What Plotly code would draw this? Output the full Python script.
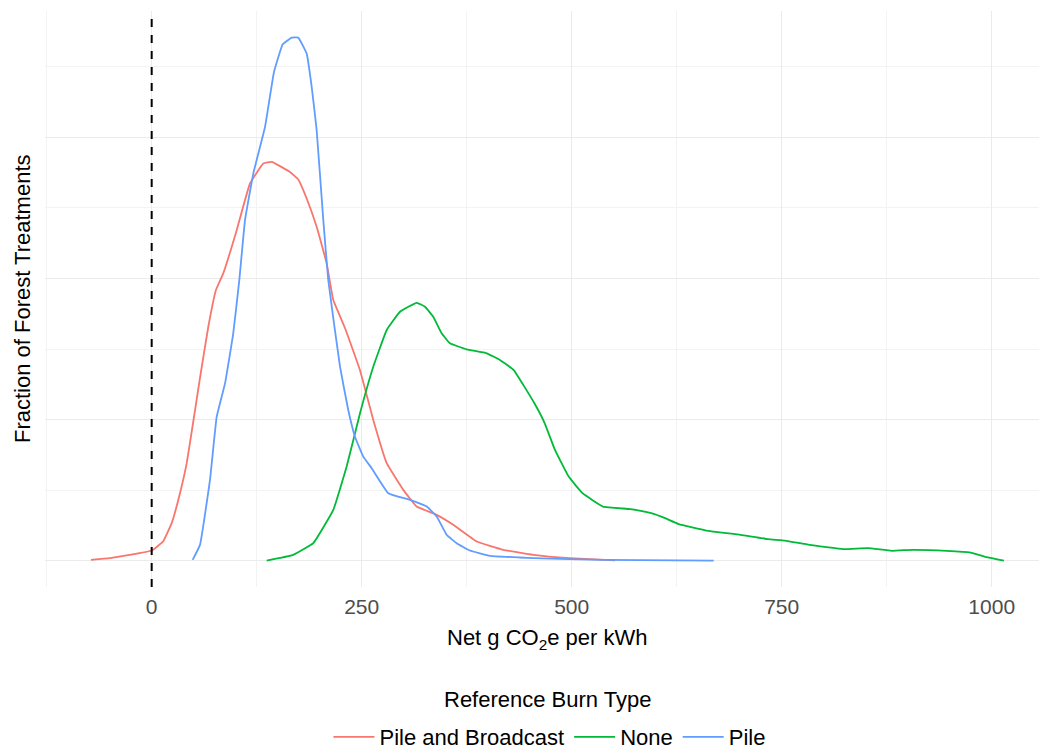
import plotly.graph_objects as go

# ---- data ----
series_names = ["Pile and Broadcast", "None", "Pile"]
series_colors = ["#F8766D", "#00BA38", "#619CFF"]

pb_x = [-72.3, -49.6, 0, 13.5, 23.8, 33.7, 41.7, 49.2, 57.5, 67.4, 76.5, 85.2, 101.2, 117,
        132.9, 142.9, 164.6, 174.5, 184.5, 196.4, 208.3, 216.2, 230.1, 247.9, 263.8, 279.8,
        299.5, 315.5, 339.3, 359, 386.9, 418.6, 454.3, 498, 551.5]
pb_y = [0.014, 0.038, 0.146, 0.273, 0.534, 0.958, 1.383, 1.949, 2.59, 3.316, 3.836, 4.072,
        4.685, 5.346, 5.629, 5.652, 5.51, 5.403, 5.134, 4.732, 4.214, 3.694, 3.298, 2.703,
        1.996, 1.383, 1.005, 0.769, 0.651, 0.51, 0.273, 0.156, 0.085, 0.038, 0.007]

none_x = [136.9, 168.6, 192.4, 216.2, 232.1, 248, 263.8, 279.8, 295.6, 315.5, 325.4, 335.2,
          345.2, 355.1, 375, 398.8, 414.6, 431, 455.6, 467.9, 480.1, 496.4, 512.9, 537.3,
          570.1, 594.6, 611.1, 627.4, 660.1, 701, 733.7, 753.9, 782.9, 823.7, 852.4, 881.1,
          905.6, 946.4, 975.1, 991.4, 1014.6]
none_y = [0.004, 0.085, 0.251, 0.722, 1.335, 2.091, 2.75, 3.27, 3.529, 3.656, 3.6, 3.458,
          3.223, 3.081, 2.996, 2.94, 2.845, 2.703, 2.232, 1.949, 1.571, 1.193, 0.958, 0.769,
          0.732, 0.675, 0.604, 0.519, 0.429, 0.368, 0.307, 0.287, 0.226, 0.166, 0.18, 0.142,
          0.156, 0.142, 0.117, 0.061, 0.004]

pile_x = [48.8, 57.5, 69.4, 77.4, 87.3, 97.1, 104.3, 111.1, 121, 134.9, 145.6, 156, 166.7,
          174.5, 184.5, 190.5, 196.4, 204.3, 210.2, 224.2, 234, 242, 251.9, 261.9, 281.7,
          307.5, 327.4, 339.3, 351.2, 363, 378.9, 402.7, 438.5, 455.1, 537.3, 669]
pile_y = [0.014, 0.226, 1.146, 2.042, 2.515, 3.223, 3.977, 4.827, 5.488, 6.147, 6.926, 7.318,
          7.413, 7.413, 7.186, 6.713, 6.101, 4.827, 3.977, 2.75, 2.137, 1.759, 1.476, 1.312,
          0.958, 0.863, 0.769, 0.627, 0.368, 0.25, 0.146, 0.071, 0.047, 0.038, 0.014, 0.004]

x_ticks = [0, 250, 500, 750, 1000]
x_tick_text = ["0", "250", "500", "750", "1000"]

# density values above are in units of 1e-3
scale = 1e-3
series = [(pb_x, pb_y), (none_x, none_y), (pile_x, pile_y)]

FONT = "Liberation Sans, Arial, sans-serif"

fig = go.Figure()
for name, color, (xs, ys) in zip(series_names, series_colors, series):
    fig.add_trace(go.Scatter(
        x=xs, y=[v * scale for v in ys], mode="lines", name=name,
        line=dict(color=color, width=1.8, shape="spline", smoothing=0.3),
    ))

fig.add_shape(type="line", xref="x", yref="paper", x0=0, x1=0, y0=0, y1=1,
              line=dict(color="black", width=2, dash="8px,8px"), layer="above")

grid_major = "#ebebeb"
grid_minor = "#f3f3f3"

fig.update_layout(
    width=1039, height=750,
    margin=dict(l=45, r=0, t=11, b=163, autoexpand=False),
    paper_bgcolor="white", plot_bgcolor="white",
    font=dict(family=FONT, size=22, color="black"),
    xaxis=dict(
        range=[-127, 1056.3], tickmode="array", tickvals=x_ticks, ticktext=x_tick_text,
        showgrid=True, gridcolor=grid_major, gridwidth=1.3,
        minor=dict(tickmode="linear", tick0=-125, dtick=125, showgrid=True,
                   gridcolor=grid_minor, gridwidth=0.8),
        zeroline=False, showline=False, ticks="", ticklabelstandoff=5, automargin=False,
        tickfont=dict(size=21, color="#4d4d4d", family=FONT),
    ),
    yaxis=dict(
        range=[-0.000371, 0.00779], tickmode="linear", tick0=0, dtick=0.002,
        showticklabels=False, showgrid=True, gridcolor=grid_major, gridwidth=1.3,
        minor=dict(tickmode="linear", tick0=0, dtick=0.001, showgrid=True,
                   gridcolor=grid_minor, gridwidth=0.8),
        zeroline=False, showline=False, ticks="", automargin=False,
    ),
    showlegend=True,
    legend=dict(
        orientation="h", x=0.5075, xanchor="center", y=-(716 - 587) / 576, yanchor="top",
        itemwidth=41,
        font=dict(size=22, family=FONT, color="black"),
        bgcolor="rgba(0,0,0,0)",
    ),
    annotations=[
        dict(text="Fraction of Forest Treatments", xref="paper", yref="paper",
             x=-0.0231, y=0.5, xanchor="center", yanchor="middle", textangle=-90,
             showarrow=False, font=dict(size=22, family=FONT, color="black")),
        dict(text="Net g CO<sub>2</sub>e per kWh", xref="paper", yref="paper",
             x=0.5055, y=-0.09, xanchor="center", yanchor="middle",
             showarrow=False, font=dict(size=22, family=FONT, color="black")),
        dict(text="Reference Burn Type", xref="paper", yref="paper",
             x=0.5057, y=-(699.5 - 587) / 576, xanchor="center", yanchor="middle",
             showarrow=False, font=dict(size=22, family=FONT, color="black")),
    ],
)

fig.write_html("out.html")
